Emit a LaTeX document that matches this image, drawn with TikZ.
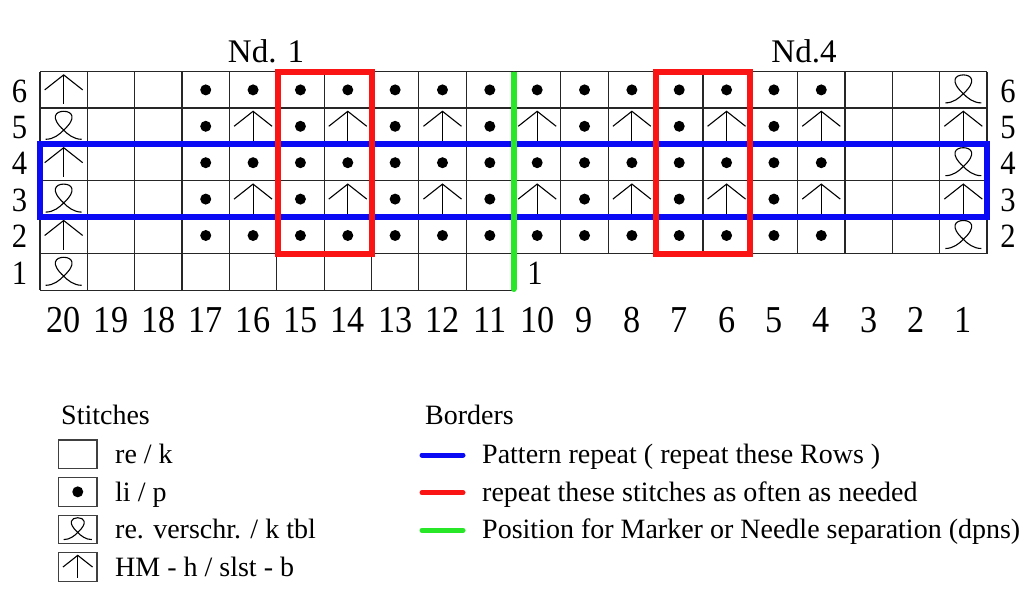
\documentclass[tikz,border=0pt]{standalone}
\usepackage{graphicx}
\usepackage{fontspec}
\setmainfont{Liberation Serif}
\definecolor{bblue}{RGB}{10,10,245}
\definecolor{rred}{RGB}{250,20,20}
\definecolor{ggreen}{RGB}{40,230,40}
\newcommand{\narrow}[1]{\scalebox{0.9}[1]{#1}}
\tikzset{
  gridline/.style={line width=1.2pt, black!85},
  sym/.style={line width=1.1pt, black},
  hm/.pic={\draw[sym] (-19,0) -- (0,-15) -- (19,0); \draw[sym] (0,-15) -- (0,14.5);},
  tbl/.pic={\draw[sym] (-18,13) .. controls (-10,13) and (-4,8) .. (0,3.8)
        .. controls (14,-9) and (8,-15) .. (0,-15)
        .. controls (-8,-15) and (-14,-9) .. (0,3.8)
        .. controls (4,8) and (10,13) .. (18,13);},
  purl/.pic={\fill[black] (0,0) circle (5.5pt);},
  rownum/.style={font=\fontsize{34}{34}\selectfont, anchor=base, inner sep=0pt},
  colnum/.style={font=\fontsize{38}{38}\selectfont, anchor=base, inner sep=0pt},
  ndlabel/.style={font=\fontsize{33}{33}\selectfont, anchor=base, inner sep=0pt},
  legtext/.style={font=\fontsize{28}{28}\selectfont, anchor=base west, inner sep=0pt},
  border/.style={line width=6pt},
  legline/.style={line width=5pt, line cap=round},
  legbox/.style={draw=black!75, line width=1.2pt},
}
\begin{document}
\begin{tikzpicture}[x=1pt,y=-1pt]
\useasboundingbox (0,0) rectangle (1029,591);
% grid
\foreach \k in {0,...,5} \draw[gridline] (40,{71.7+\k*36.4}) -- (987,{71.7+\k*36.4});
\draw[gridline] (40,290.1) -- (513.5,290.1);
\foreach \i in {0,...,20} \draw[gridline] ({40+\i*47.35},71.7) -- ({40+\i*47.35},254.1);
\foreach \i in {0,...,10} \draw[gridline] ({40+\i*47.35},254.1) -- ({40+\i*47.35},290.1);
% symbols
\foreach \r in {6,4,2} {
  \pic at (63.675,{71.7+(6-\r)*36.4+18.2}) {hm};
  \pic at (963.325,{71.7+(6-\r)*36.4+18.2}) {tbl};
  \foreach \c in {4,...,17} \pic at ({40+(20-\c)*47.35+23.675},{71.7+(6-\r)*36.4+18.2}) {purl};
}
\foreach \r in {5,3} {
  \pic at (63.675,{71.7+(6-\r)*36.4+18.2}) {tbl};
  \pic at (963.325,{71.7+(6-\r)*36.4+18.2}) {hm};
  \foreach \c in {5,7,...,17} \pic at ({40+(20-\c)*47.35+23.675},{71.7+(6-\r)*36.4+18.2}) {purl};
  \foreach \c in {4,6,...,16} \pic at ({40+(20-\c)*47.35+23.675},{71.7+(6-\r)*36.4+18.2}) {hm};
}
\pic at (63.675,272.3) {tbl};
% borders
\draw[border, bblue] (40,144.5) rectangle (987,217.3);
\draw[border, rred] (277.7,71.7) rectangle (372.4,254.1);
\draw[border, rred] (655.6,71.7) rectangle (750.3,254.1);
\draw[border, ggreen, line cap=round] (513.5,74.7) -- (513.5,289);
\draw[line width=6pt, ggreen] (513.5,71.7) -- (513.5,76);
% labels
\node[ndlabel] (nd1) at (266,63) {Nd. 1};
\node[ndlabel] (nd4) at (804,63) {Nd.4};
\foreach \r in {1,...,6} \node[rownum] (rl\r) at (19.5,{71.7+(6-\r)*36.4+30.5}) {\narrow{\r}};
\foreach \r in {2,...,6} \node[rownum] (rr\r) at (1008,{71.7+(6-\r)*36.4+30.5}) {\narrow{\r}};
\node[rownum] (rr1) at (535,284.6) {\narrow{1}};
\foreach \c in {1,...,20} \node[colnum] (cn\c) at ({40+(20-\c)*47.35+23.675},332.7) {\narrow{\c}};
% legend stitches
\node[legtext] (lst) at (61,424) {Stitches};
\foreach \i in {0,...,3} \draw[legbox] (58.5,{440+37.6*\i}) rectangle (97,{468.5+37.6*\i});
\pic at (77.75,{454.25+37.6}) {purl};
\pic[scale=0.78] at (77.75,{454.25+2*37.6}) {tbl};
\pic[scale=0.78] at (77.75,{454.25+3*37.6}) {hm};
\node[legtext] (l1) at (115,463.5) {re / k};
\node[legtext] (l2) at (115,501.1) {li / p};
\node[legtext] (l3) at (115,538.7) {re. verschr. / k tbl};
\node[legtext] (l4) at (115,576.3) {HM - h / slst - b};
% legend borders
\node[legtext] (lbo) at (425,424) {Borders};
\coordinate (b1a) at (422,455); \coordinate (b1b) at (463,455);
\coordinate (b2a) at (422,492.6); \coordinate (b2b) at (463,492.6);
\coordinate (b3a) at (422,530.2); \coordinate (b3b) at (463,530.2);
\draw[legline, bblue] (b1a) -- (b1b);
\draw[legline, rred] (b2a) -- (b2b);
\draw[legline, ggreen] (b3a) -- (b3b);
\node[legtext] (lb1) at (482,463.5) {Pattern repeat ( repeat these Rows )};
\node[legtext] (lb2) at (482,501.1) {repeat these stitches as often as needed};
\node[legtext] (lb3) at (482,538.7) {Position for Marker or Needle separation (dpns)};
\end{tikzpicture}
\end{document}
